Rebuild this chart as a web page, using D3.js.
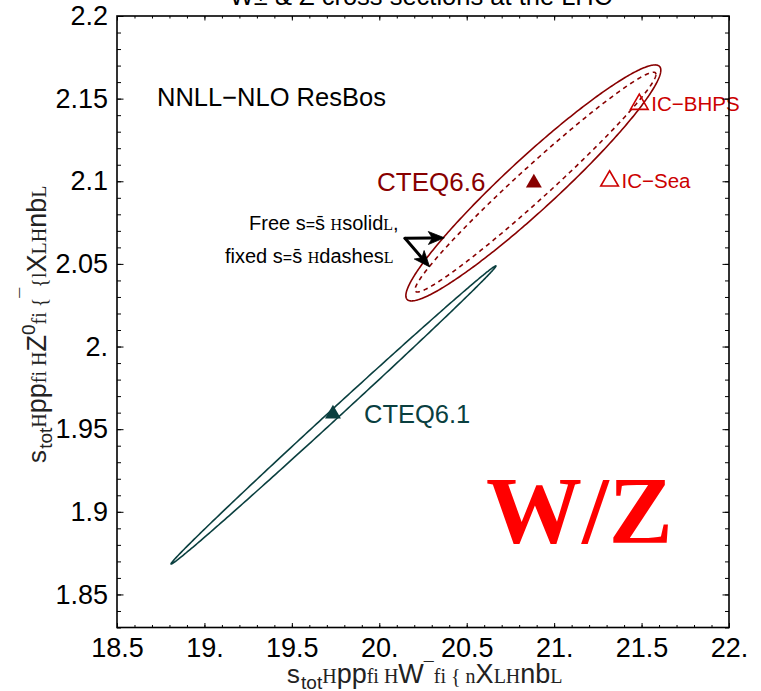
<!DOCTYPE html>
<html>
<head>
	<meta charset="utf-8">
	<title>W/Z cross sections</title>
	<script src="https://cdnjs.cloudflare.com/ajax/libs/d3/7.8.5/d3.min.js"></script>
	<style type="text/css">
		body{
			margin: 0;
			padding: 0;
			background: #fff;
		}
		svg{
			display: block;
		}
		text{
			font-family: "Liberation Sans", Arial, sans-serif;
		}
		.ser{
			font-family: "Liberation Serif", "DejaVu Serif", serif;
		}
		.mono{
			font-family: "Liberation Mono", "DejaVu Sans Mono", monospace;
		}
	</style>
</head>
<body>
	<svg id="svg" width="761" height="691" xmlns="http://www.w3.org/2000/svg"></svg>
	<script type="text/javascript">
		// tick labels
		let xTicks = [18.5, 19, 19.5, 20, 20.5, 21, 21.5, 22];
		let yTicks = [1.85, 1.9, 1.95, 2.0, 2.05, 2.1, 2.15, 2.2];

		// error ellipses: centre, sigma x, sigma y, correlation
		let ellipseNames = ['CTEQ6.6 free s', 'CTEQ6.6 fixed s', 'CTEQ6.1'];
		let ellipseCx = [20.881, 20.893, 19.738];
		let ellipseCy = [2.099, 2.0995, 1.9586];
		let ellipseSx = [0.729, 0.689, 0.929];
		let ellipseSy = [0.0714, 0.0665, 0.0902];
		let ellipseRho = [0.955, 0.980, 0.999];

		// central predictions (filled) and intrinsic charm sets (open)
		let pointNames = ['CTEQ6.6', 'CTEQ6.1', 'IC-BHPS', 'IC-Sea'];
		let pointX = [20.884, 19.735, 21.487, 21.317];
		let pointY = [2.0996, 1.9598, 2.1472, 2.1008];

		// arrow from the note to the two contours
		let arrowFrom = [20.147, 2.0655];
		let arrowTo = [[20.372, 2.0658], [20.288, 2.0482]];

		let svg = d3.select('#svg');
		let x = d3.scaleLinear().domain([18.5, 22]).range([117, 729]);
		let y = d3.scaleLinear().domain([1.83, 2.2]).range([627.5, 16]);

		let colors = {
			c66: '#880000',
			c61: '#0a3f3f',
			ic: '#cc0000'
		};

		// title, mostly cut off at the top
		svg.append('text')
			.attr('x', 421).attr('y', 5)
			.attr('text-anchor', 'middle')
			.style('font-size', '25.5px')
			.text('W\u00b1 & Z cross sections at the LHC');

		// ellipses
		let line = d3.line()
			.x(d => x(d[0]))
			.y(d => y(d[1]))
			.curve(d3.curveLinearClosed);

		function ellipsePoints(i){
			let phi = Math.acos(ellipseRho[i]);
			let pts = [];
			for(let k = 0; k < 360; k++){
				let t = k / 360 * 2 * Math.PI;
				pts.push([ellipseCx[i] + ellipseSx[i] * Math.cos(t),
					ellipseCy[i] + ellipseSy[i] * Math.cos(t - phi)]);
			}
			return pts;
		}

		let ellStyle = [
			{stroke: colors.c66, dash: null},
			{stroke: colors.c66, dash: '4.5,4'},
			{stroke: colors.c61, dash: null}
		];
		ellipseNames.forEach(function(name, i){
			svg.append('path')
				.attr('d', line(ellipsePoints(i)))
				.attr('fill', 'none')
				.attr('stroke', ellStyle[i].stroke)
				.attr('stroke-width', 1.6)
				.attr('stroke-dasharray', ellStyle[i].dash);
		});

		// triangles
		let tri = d3.symbol().type(d3.symbolTriangle);
		let pointStyle = [
			{fill: colors.c66, stroke: 'none', size: 110},
			{fill: colors.c61, stroke: 'none', size: 110},
			{fill: 'none', stroke: colors.ic, size: 135},
			{fill: 'none', stroke: colors.ic, size: 135}
		];
		pointNames.forEach(function(name, i){
			svg.append('path')
				.attr('d', tri.size(pointStyle[i].size)())
				.attr('transform', 'translate(' + x(pointX[i]) + ',' + (y(pointY[i]) + 1) + ')')
				.attr('fill', pointStyle[i].fill)
				.attr('stroke', pointStyle[i].stroke)
				.attr('stroke-width', 1.6);
		});

		// labels
		svg.append('text').attr('x', 157).attr('y', 106)
			.style('font-size', '25.5px').text('NNLL\u2212NLO ResBos');
		svg.append('text').attr('x', 377).attr('y', 191)
			.style('font-size', '26px').attr('fill', colors.c66).text('CTEQ6.6');
		svg.append('text').attr('x', 364).attr('y', 423)
			.style('font-size', '25.5px').attr('fill', colors.c61).text('CTEQ6.1');
		svg.append('text').attr('x', x(pointX[2]) + 12).attr('y', y(pointY[2]) + 8)
			.style('font-size', '20.5px').attr('fill', colors.ic).text('IC\u2212BHPS');
		svg.append('text').attr('x', x(pointX[3]) + 12).attr('y', y(pointY[3]) + 8)
			.style('font-size', '20.5px').attr('fill', colors.ic).text('IC\u2212Sea');

		// note with broken parentheses, as in the picture
		function note(xx, yy, word, tail){
			let t = svg.append('text').attr('x', xx).attr('y', yy).style('font-size', '20px');
			t.append('tspan').text(word + ' s');
			t.append('tspan').style('font-size', '16px').text('=');
			t.append('tspan').text('s\u0304 ');
			t.append('tspan').attr('class', 'ser').style('font-size', '16px').text('H');
			t.append('tspan').text(tail);
			t.append('tspan').attr('class', 'ser').style('font-size', '16px').text('L');
			return t;
		}
		note(249, 230, 'Free', 'solid').append('tspan').text(',');
		note(225, 263, 'fixed', 'dashes');

		// arrows, head drawn as a filled triangle
		arrowTo.forEach(function(p){
			let x1 = x(arrowFrom[0]), y1 = y(arrowFrom[1]);
			let x2 = x(p[0]), y2 = y(p[1]);
			let len = Math.hypot(x2 - x1, y2 - y1);
			let ux = (x2 - x1) / len, uy = (y2 - y1) / len;
			let hl = 16, hw = 6.5;
			svg.append('line')
				.attr('x1', x1).attr('y1', y1)
				.attr('x2', x2 - ux * hl * 0.8).attr('y2', y2 - uy * hl * 0.8)
				.attr('stroke', '#000').attr('stroke-width', 3)
				.attr('stroke-linecap', 'round');
			let bx = x2 - ux * hl, by = y2 - uy * hl;
			svg.append('path')
				.attr('d', 'M' + x2 + ',' + y2 + 'L' + (bx - uy * hw) + ',' + (by + ux * hw) +
					'L' + (x2 - ux * hl * 0.75) + ',' + (y2 - uy * hl * 0.75) +
					'L' + (bx + uy * hw) + ',' + (by - ux * hw) + 'Z')
				.attr('fill', '#000').attr('stroke', '#000').attr('stroke-width', 0.8);
		});

		// big W/Z
		svg.append('text').attr('x', 486).attr('y', 543)
			.attr('class', 'ser')
			.style('font-size', '96px').style('font-weight', 'bold')
			.attr('fill', '#ff0000').text('W/Z');

		// frame and ticks
		let fmt = d => Number.isInteger(d) ? d + '.' : String(d);
		let sides = [
			{fn: d3.axisBottom, s: x, t: [0, 627.5], lab: true, maj: 4.5, min: 2.5, ticks: xTicks, minor: x.ticks(35)},
			{fn: d3.axisTop, s: x, t: [0, 16], lab: false, maj: 4.5, min: 2.5, ticks: xTicks, minor: x.ticks(35)},
			{fn: d3.axisLeft, s: y, t: [117, 0], lab: true, maj: 6.5, min: 4, ticks: yTicks, minor: y.ticks(37)},
			{fn: d3.axisRight, s: y, t: [729, 0], lab: false, maj: 6.5, min: 4, ticks: yTicks, minor: y.ticks(37)}
		];
		sides.forEach(function(sd){
			let g = svg.append('g').attr('transform', 'translate(' + sd.t[0] + ',' + sd.t[1] + ')');
			g.call(sd.fn(sd.s).tickValues(sd.minor).tickSize(-sd.min).tickFormat(''));
			g.selectAll('.domain').remove();
			let g2 = svg.append('g').attr('transform', 'translate(' + sd.t[0] + ',' + sd.t[1] + ')');
			g2.call(sd.fn(sd.s).tickValues(sd.ticks).tickSize(-sd.maj).tickPadding(sd.fn === d3.axisBottom ? 10 : 9)
				.tickFormat(sd.lab ? fmt : ''));
			g2.selectAll('.domain').remove();
			g2.selectAll('text').style('font-size', '27px').attr('fill', '#000')
				.style('font-family', '"Liberation Sans", Arial, sans-serif');
			svg.selectAll('.tick line').attr('stroke', '#000').attr('stroke-width', 1);
		});
		svg.append('rect')
			.attr('x', 117).attr('y', 16)
			.attr('width', 729 - 117).attr('height', 627.5 - 16)
			.attr('fill', 'none').attr('stroke', '#000').attr('stroke-width', 1.6);

		// axis titles, with the broken symbol glyphs of the original
		function axisTitle(t, parts){
			parts.forEach(function(p){
				let s = t.append('tspan').text(p[0]);
				if(p[1]) s.attr('class', p[1]);
				s.style('font-size', p[2] + 'px');
				if(p[3]) s.attr('dy', p[3]);
			});
		}
		let xt = svg.append('text').attr('x', 424).attr('y', 683).attr('text-anchor', 'middle').attr('fill', '#222');
		axisTitle(xt, [
			['s', 'mono', 26], ['tot', '', 19, 6], ['H', 'ser', 20, -6], ['pp', '', 27], ['fi ', 'ser', 20],
			['H', 'ser', 20], ['W', '', 27], ['\u00af', '', 18, -8], ['fi ', 'ser', 20, 8], ['{ ', 'ser', 20],
			['n', 'ser', 20], ['X', '', 27], ['L', 'ser', 20], ['H', 'ser', 20], ['nb', '', 27], ['L', 'ser', 20]
		]);
		let yt = svg.append('text').attr('transform', 'translate(46,325) rotate(-90)')
			.attr('text-anchor', 'middle').attr('fill', '#222');
		axisTitle(yt, [
			['s', 'mono', 26], ['tot', '', 19, 6], ['H', 'ser', 20, -6], ['pp', '', 27], ['fi ', 'ser', 20],
			['H', 'ser', 20], ['Z', '', 27], ['0', '', 19, -11], ['fi ', 'ser', 20, 11], ['{', 'ser', 20],
			['\u00af', '', 18, -13], ['{', 'ser', 20, 13], ['l', 'ser', 20], ['X', '', 27], ['L', 'ser', 20],
			['H', 'ser', 20], ['nb', '', 27], ['L', 'ser', 20]
		]);
	</script>
</body>
</html>
